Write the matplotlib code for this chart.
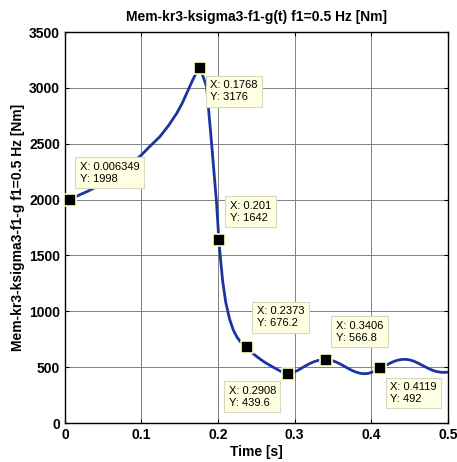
import matplotlib.pyplot as plt

plt.rcParams['font.family'] = ['Liberation Sans', 'DejaVu Sans']

# curve
t_values = [0.0, 0.0063, 0.02, 0.03, 0.04, 0.05, 0.0625, 0.075, 0.0875, 0.1, 0.11, 0.124, 0.135,
            0.146, 0.153, 0.159, 0.1675, 0.172, 0.1768,
            0.18, 0.185, 0.1915, 0.198, 0.201, 0.203, 0.206, 0.21, 0.215, 0.22, 0.225, 0.23, 0.2373,
            0.24, 0.245, 0.25, 0.255, 0.26, 0.265, 0.27, 0.275, 0.28, 0.285, 0.2908,
            0.295, 0.30, 0.305, 0.31, 0.315, 0.32, 0.325, 0.33, 0.335, 0.3406,
            0.345, 0.35, 0.355, 0.36, 0.365, 0.37, 0.375, 0.38, 0.385, 0.39, 0.395, 0.40, 0.405, 0.4119,
            0.415, 0.42, 0.425, 0.43, 0.435, 0.44, 0.445, 0.45, 0.455, 0.46, 0.465, 0.47, 0.475,
            0.48, 0.485, 0.49, 0.495, 0.5]
m_values = [1990, 1998, 2045, 2075, 2110, 2150, 2200, 2260, 2325, 2400, 2470, 2563, 2660,
            2772, 2860, 2951, 3080, 3140, 3176,
            3110, 3011, 2504, 1970, 1642, 1480, 1270, 1080, 930, 830, 765, 720, 676.2,
            655, 625, 597, 572, 548, 527, 507, 488, 469, 453, 439.6,
            445, 458, 475, 495, 515, 533, 548, 559, 565, 566.8,
            564, 556, 543, 526, 507, 488, 470, 456, 446, 441, 443, 452, 466, 492,
            503, 520, 537, 552, 563, 569, 570, 565, 555, 540, 522, 504, 487,
            472, 461, 455, 453, 455]

# data tips
tip_t = [0.006349, 0.1768, 0.201, 0.2373, 0.2908, 0.3406, 0.4119]
tip_m = [1998, 3176, 1642, 676.2, 439.6, 566.8, 492]
tip_x = ['0.006349', '0.1768', '0.201', '0.2373', '0.2908', '0.3406', '0.4119']
tip_y = ['1998', '3176', '1642', '676.2', '439.6', '566.8', '492']
tip_off = [(10, 38), (10, -12), (11, 39), (10, 41), (-59, -12), (10, 39), (10, -14)]

fig = plt.figure(figsize=(4.57, 4.62), dpi=100)
ax = fig.add_axes([0.142, 0.0844, 0.838, 0.8463])

ax.plot(t_values, m_values, color='#1c34a0', lw=2, zorder=3)

for i in range(len(tip_t)):
    ax.plot(tip_t[i], tip_m[i], 's', ms=9, mfc='black', mec='#ffffcc', mew=1.2, zorder=5, clip_on=False)
    ax.annotate('X: ' + tip_x[i] + '\nY: ' + tip_y[i], (tip_t[i], tip_m[i]),
                xytext=tip_off[i], textcoords='offset pixels', ha='left', va='top',
                fontsize=8, linespacing=1.25, zorder=6,
                bbox=dict(boxstyle='square,pad=0.4', fc='#ffffe1', ec='#d8d8c0', lw=0.8))

ax.set_xlim(0, 0.5)
ax.set_ylim(0, 3500)
ax.set_xticks([0, 0.1, 0.2, 0.3, 0.4, 0.5])
ax.set_xticklabels(['0', '0.1', '0.2', '0.3', '0.4', '0.5'])
ax.set_yticks(range(0, 3501, 500))
ax.grid(True, color='#808080', lw=0.7)
ax.tick_params(direction='in', top=True, right=True, length=3, labelsize=10, width=0.8)
for lab in ax.get_xticklabels() + ax.get_yticklabels():
    lab.set_fontweight('bold')
for s in ax.spines.values():
    s.set_linewidth(1)

ax.set_title('Mem-kr3-ksigma3-f1-g(t) f1=0.5 Hz [Nm]', fontsize=10, fontweight='bold', pad=8)
ax.set_xlabel('Time [s]', fontsize=10, fontweight='bold', labelpad=2)
ax.set_ylabel('Mem-kr3-ksigma3-f1-g f1=0.5 Hz [Nm]', fontsize=10, fontweight='bold', labelpad=3)

plt.savefig('out.png', dpi=100)
